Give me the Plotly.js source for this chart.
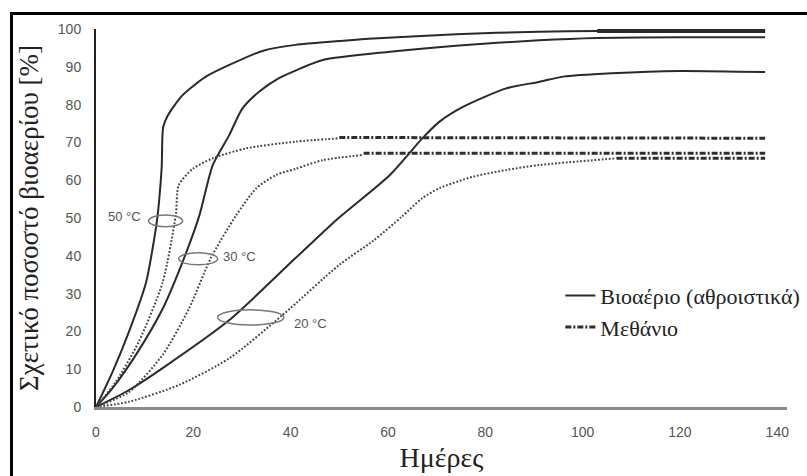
<!DOCTYPE html>
<html>
<head>
<meta charset="utf-8">
<script src="https://cdn.plot.ly/plotly-3.0.1.min.js"></script>
<style>
  html, body { margin: 0; padding: 0; background: #fff; overflow: hidden; }
  #wrap { position: relative; width: 807px; height: 476px; overflow: hidden; }
  #chart { width: 807px; height: 476px; }
  #frame { position: absolute; left: 10px; top: 12px; width: 900px; height: 600px;
           border: 3px solid #000; pointer-events: none; }
</style>
</head>
<body>
<div id="wrap">
<div id="chart"></div>
<div id="frame"></div>
</div>
<script>
// ---- Data ----
// Biogas (cumulative), solid lines
const bio50Days = [0, 3.4, 6.8, 10.3, 11.9, 12.6, 13.0, 13.5, 13.8, 14.7, 17.8, 22.6, 27.4, 34.2, 41, 50, 57, 74, 91, 103, 120, 137.5];
const bio50Vals = [0, 9.3, 20, 33, 44, 50, 55, 63.5, 74, 77, 82.5, 87.4, 90.5, 94.2, 95.8, 96.8, 97.5, 98.6, 99.3, 99.5, 99.5, 99.5];
const bio50TailDays = [103, 120, 137.5];
const bio50TailVals = [99.5, 99.5, 99.5];

const bio30Days = [0, 3.4, 8.2, 13.7, 18.1, 21.2, 24, 27.4, 30.1, 33.5, 37.6, 41, 46.6, 60.4, 74, 91, 103, 120, 137.5];
const bio30Vals = [0, 5, 13.8, 26, 39.4, 50.5, 64, 72, 79, 83.4, 87, 89, 91.8, 94, 95.6, 97, 97.6, 97.8, 97.8];

const bio20Days = [0, 6.8, 13.7, 27.4, 41, 49.4, 60.4, 67, 70.6, 75.4, 84.3, 91, 96, 106, 120, 137.5];
const bio20Vals = [0, 4.5, 10.3, 23, 39.4, 49.5, 61.4, 71, 75.5, 79.4, 84.3, 86, 87.4, 88.3, 88.9, 88.6];

// Methane, dotted rising part + dash-dot plateau
const met50Days = [0, 4.1, 8.8, 13.7, 16.4, 17, 19.9, 24, 30.8, 41, 50];
const met50Vals = [0, 6.7, 17.3, 33, 50.8, 58.7, 63, 65.8, 68.4, 70.2, 71.1];
const met50PlatDays = [50, 90, 137.5];
const met50PlatVals = [71.3, 71.2, 71.1];

const met30Days = [0, 6.8, 13.7, 19.1, 23.6, 28.7, 32.9, 37, 41, 46.6, 55];
const met30Vals = [0, 4, 13.8, 26, 39.4, 50.5, 57.8, 61.4, 63, 65.3, 66.7];
const met30PlatDays = [55, 90, 137.5];
const met30PlatVals = [67.1, 67.1, 67.1];

const met20Days = [0, 6.8, 17, 27.4, 38.3, 50, 57, 62.8, 67, 70.6, 77.4, 84.3, 91, 107];
const met20Vals = [0, 1.4, 5.8, 12.9, 24.3, 37.6, 44, 50.3, 55.2, 57.9, 60.9, 62.7, 64, 65.8];
const met20PlatDays = [107, 120, 137.5];
const met20PlatVals = [65.8, 65.8, 65.8];

// Temperature labels and their ellipses
const tempLabels = ['50 °C', '30 °C', '20 °C'];
const labelDays = [9.65, 25.7, 40.2];
const labelVals = [50.3, 39.7, 22.2];
const labelAnchors = ['right', 'left', 'left'];
const ellipseDays = [[10.8, 17.8], [17, 25], [25, 38.6]];
const ellipseVals = [[47.7, 50.8], [37.6, 40.8], [21.7, 25.7]];

const xTicks = [0, 20, 40, 60, 80, 100, 120, 140];
const yTicks = [0, 10, 20, 30, 40, 50, 60, 70, 80, 90, 100];

const legendBio = 'Βιοαέριο (αθροιστικά)';
const legendMet = 'Μεθάνιο';

// ---- Styles ----
const solid = {color: '#2a2a2a', width: 2, shape: 'spline', smoothing: 0.7};
const dotted = {color: '#444', width: 2, dash: '1.8px,1.8px', shape: 'spline', smoothing: 0.7};
const plateau = {color: '#2e2e2e', width: 3, dash: '6px,2px,2px,2px'};
const serif = "'Liberation Serif', 'DejaVu Serif', serif";
const sans = "'Liberation Sans', Arial, sans-serif";

function tr(x, y, line, name, show, group) {
  return {x: x, y: y, type: 'scatter', mode: 'lines', line: line, name: name,
          showlegend: show, legendgroup: group, hoverinfo: 'skip'};
}

const traces = [
  tr(bio50Days, bio50Vals, solid, legendBio, true, 'bio'),
  tr(bio50TailDays, bio50TailVals, {color: '#2a2a2a', width: 4}, legendBio, false, 'bio'),
  tr(bio30Days, bio30Vals, solid, legendBio, false, 'bio'),
  tr(bio20Days, bio20Vals, solid, legendBio, false, 'bio'),
  tr(met50Days, met50Vals, dotted, legendMet, false, 'met'),
  tr(met50PlatDays, met50PlatVals, plateau, legendMet, true, 'met'),
  tr(met30Days, met30Vals, dotted, legendMet, false, 'met'),
  tr(met30PlatDays, met30PlatVals, plateau, legendMet, false, 'met'),
  tr(met20Days, met20Vals, dotted, legendMet, false, 'met'),
  tr(met20PlatDays, met20PlatVals, plateau, legendMet, false, 'met')
];

const annotations = tempLabels.map((t, i) => ({
  x: labelDays[i], y: labelVals[i], xref: 'x', yref: 'y', text: t, showarrow: false,
  xanchor: labelAnchors[i], yanchor: 'middle',
  font: {family: sans, size: 13, color: '#555'}
}));

const shapes = ellipseDays.map((d, i) => ({
  type: 'circle', xref: 'x', yref: 'y', x0: d[0], x1: d[1],
  y0: ellipseVals[i][0], y1: ellipseVals[i][1],
  line: {color: '#777', width: 1.5}
}));

const layout = {
  width: 807, height: 476,
  margin: {l: 96, r: 20, t: 29, b: 69, autoexpand: false},
  paper_bgcolor: '#fff', plot_bgcolor: '#fff',
  showlegend: true,
  legend: {x: 0.672, y: 0.35, xanchor: 'left', yanchor: 'top', bgcolor: 'rgba(0,0,0,0)',
           font: {family: serif, size: 22, color: '#222'}, tracegroupgap: 0, itemwidth: 30},
  xaxis: {
    range: [0, 142], tickvals: xTicks, ticktext: xTicks.map(String),
    showgrid: false, zeroline: false, showline: true, linecolor: '#8a8a8a', linewidth: 2.5,
    ticks: '', ticklabelstandoff: 11,
    tickfont: {family: sans, size: 14, color: '#555'},
    title: {text: 'Ημέρες', font: {family: serif, size: 28, color: '#222'}, standoff: 8}
  },
  yaxis: {
    range: [0, 100], tickvals: yTicks, ticktext: yTicks.map(String),
    showgrid: false, zeroline: false, showline: true, linecolor: '#222', linewidth: 2,
    ticks: '', ticklabelstandoff: 10,
    tickfont: {family: sans, size: 14, color: '#555'},
    title: {text: 'Σχετικό ποσοστό βιοαερίου [%]', font: {family: serif, size: 27, color: '#222'}, standoff: 11}
  },
  annotations: annotations,
  shapes: shapes
};

Plotly.newPlot('chart', traces, layout, {displayModeBar: false, staticPlot: true});
</script>
</body>
</html>
